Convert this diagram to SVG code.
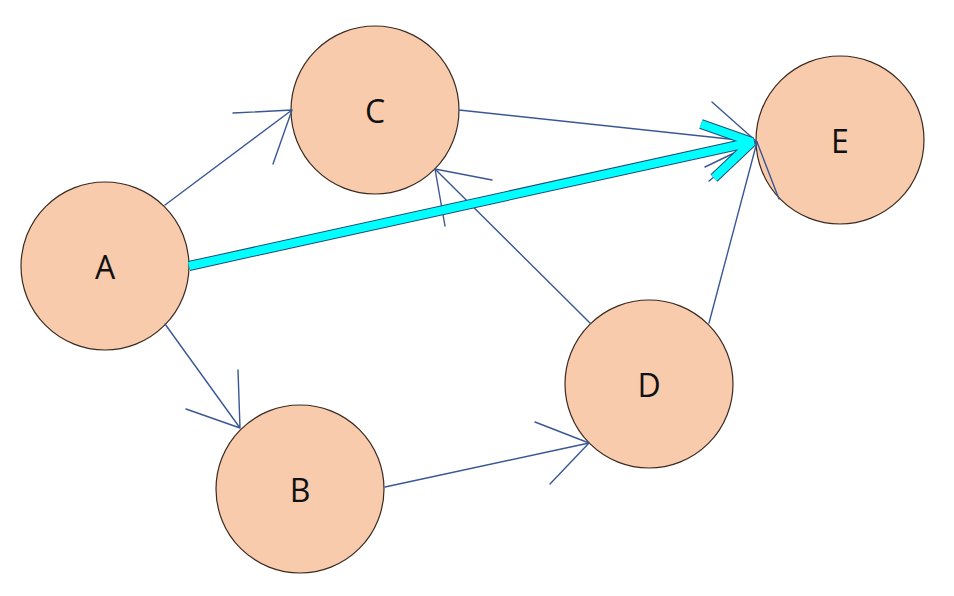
<svg xmlns="http://www.w3.org/2000/svg" width="954" height="596" viewBox="0 0 954 596">
<style>
.node circle{fill:#F8CBAD;stroke:#3b2a20;stroke-width:1.2}
.node text{font-family:"Open Sans","Liberation Sans",sans-serif;font-size:32px;fill:#111;text-anchor:middle;dominant-baseline:central}
.edge{fill:none;stroke:#3A5795;stroke-width:1.4;stroke-linecap:round;stroke-linejoin:round}
.hl-out{fill:none;stroke:#1F4E79;stroke-width:10;stroke-linejoin:bevel}
.hl-in{fill:none;stroke:#00FFFF;stroke-width:8;stroke-linejoin:bevel}
</style>
<rect width="954" height="596" fill="#fff"/>
<g id="node-A" class="node"><circle cx="105" cy="266" r="84"/><text x="105" y="266">A</text></g>
<g id="node-C" class="node"><circle cx="375" cy="110" r="84"/><text x="375" y="110">C</text></g>
<g id="node-E" class="node"><circle cx="840" cy="140" r="84"/><text x="840" y="140">E</text></g>
<g id="node-D" class="node"><circle cx="649" cy="384" r="84"/><text x="649" y="384">D</text></g>
<g id="node-B" class="node"><circle cx="300" cy="489" r="84"/><text x="300" y="489">B</text></g>
<g id="connectors">
<path class="edge" d="M165,205 L292,110 M233,113 L292,110 L273,164"/>
<path class="edge" d="M165,324 L240,428 M238,370 L240,428 L186,409"/>
<path class="edge" d="M385,487 L589,443 M535,422 L589,443 L550,484"/>
<path class="edge" d="M590,323 L435,169 M492,180 L435,169 L445,226"/>
<path class="edge" d="M459,110 L757,142 M712,102 L757,142 L705,167"/>
<path class="edge" d="M709,323 L757,142 M779,199 L757,142 L709,181"/>
<g id="edge-A-E">
<path class="hl-out" d="M189,266 L752,142 M701,124 L752,142 L714,178"/>
<path class="hl-in" d="M189,266 L752,142 M701,124 L752,142 L714,178"/>
</g>
</g>
</svg>
